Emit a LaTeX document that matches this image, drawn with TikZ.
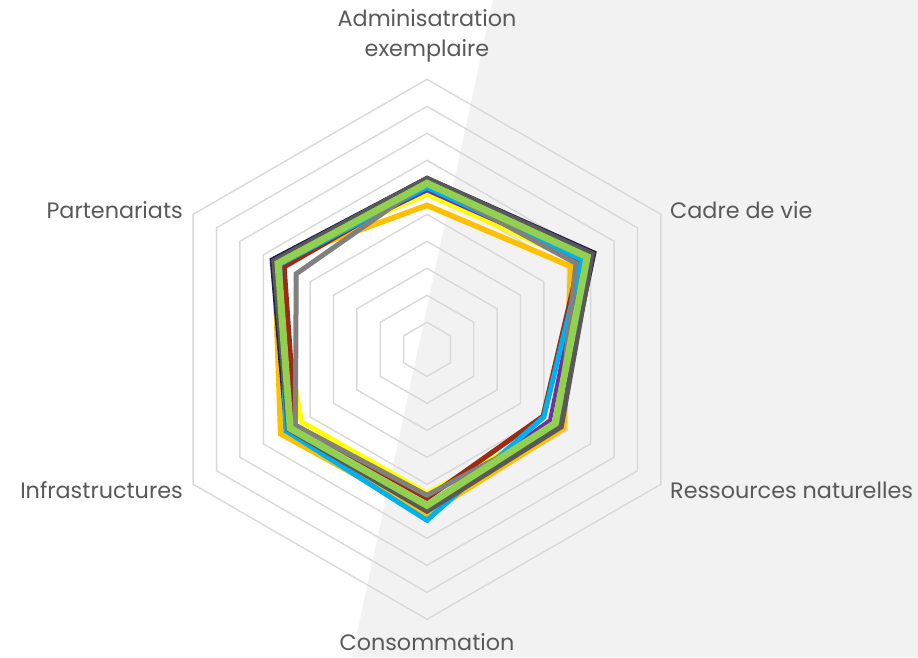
\documentclass[tikz,border=0pt]{standalone}
\usepackage{fontspec}
\setmainfont{Poppins}
\usetikzlibrary{calc}
\definecolor{bgR}{HTML}{F2F2F2}
\definecolor{gridc}{HTML}{D9D9D9}
\definecolor{labc}{HTML}{595959}
\definecolor{cNavy}{HTML}{1F1F4F}
\definecolor{cDark}{HTML}{595959}
\definecolor{cGreen}{HTML}{92D050}
\definecolor{cGray}{HTML}{808080}
\definecolor{cBlue}{HTML}{00B0F0}
\definecolor{cPurple}{HTML}{7030A0}
\definecolor{cYellow}{HTML}{FFFF00}
\definecolor{cOrange}{HTML}{FFC000}
\definecolor{cBrown}{HTML}{9C2A14}
\newcommand\radarline[7]{\draw[#1] (90:#2) -- (30:#3) -- (-30:#4) -- (-90:#5) -- (210:#6) -- (150:#7) -- cycle;}
\begin{document}
\begin{tikzpicture}[x=1pt,y=1pt,
  gridline/.style={draw=gridc,line width=1.4pt},
  series/.style={line width=#1,line join=miter,miter limit=4},
  lab/.style={text=labc,font=\fontsize{22.3}{30}\selectfont,inner sep=0pt}]
\useasboundingbox (0,0) rectangle (918,657);
\fill[white] (0,0) rectangle (918,657);
\fill[bgR] (493,657) -- (918,657) -- (918,0) -- (352,0) -- cycle;
\begin{scope}[shift={(427,307.7)}]
  \foreach \k in {1,...,10}{
    \draw[gridline] (90:27*\k) -- (30:27*\k) -- (-30:27*\k) -- (-90:27*\k) -- (210:27*\k) -- (150:27*\k) -- cycle;
  }
  \radarline{cOrange,series=5.5pt}{144}{166}{158}{165}{169}{176}
  \radarline{cYellow,series=5pt}{155}{175}{150}{144}{145}{178}
  \radarline{cNavy,series=3pt}{172}{194}{152}{160}{163}{180}
  \radarline{cPurple,series=4pt}{159}{180}{142}{160}{160}{172}
  \radarline{cBrown,series=5pt}{165}{176}{134}{149}{152}{165}
  \radarline{cBlue,series=5pt}{162}{179}{135}{171}{163}{170}
  \radarline{cGray,series=5pt}{167}{172}{152}{146}{152}{151}
  \radarline{cDark,series=5pt}{171}{191}{155}{162}{160}{177}
  \radarline{cGreen,series=7pt}{166}{185}{148}{156}{158}{172}
\end{scope}
\node[lab,align=center] (admin) at (427,621) {Adminisatration\\exemplaire};
\node[lab,anchor=west] (cadre) at (670,447) {Cadre de vie};
\node[lab,anchor=west] (ress) at (670,167) {Ressources naturelles};
\node[lab,anchor=base] (conso) at (427,7) {Consommation};
\node[lab,anchor=east] (infra) at (183,167) {Infrastructures};
\node[lab,anchor=east] (part) at (183,447) {Partenariats};
\end{tikzpicture}
\end{document}
